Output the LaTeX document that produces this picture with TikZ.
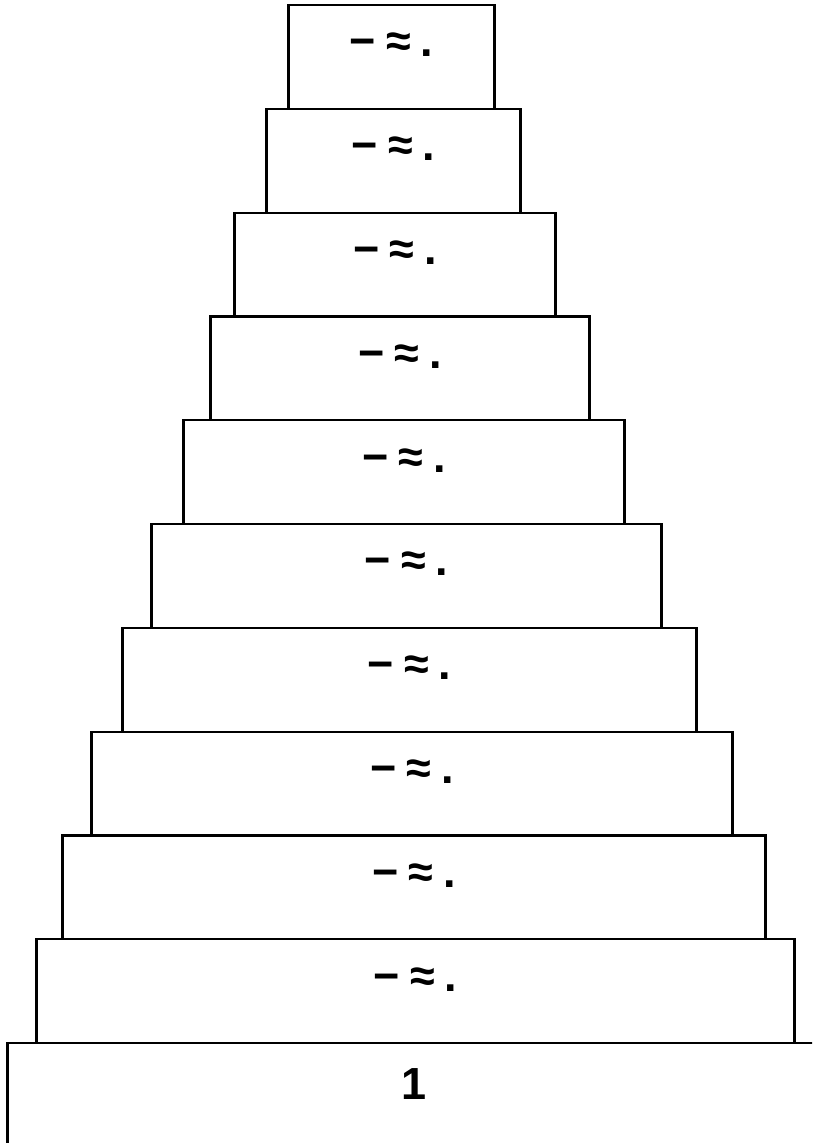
\documentclass[tikz,border=0pt]{standalone}
\usepackage{fontspec}
\setmainfont{Liberation Sans}
\newfontfamily\tierfont[WordSpace=0.8]{Liberation Sans}
\usetikzlibrary{positioning}

\begin{document}
\begin{tikzpicture}[x=1pt,y=1pt,
  tier/.style={draw,line width=2.2pt,outer sep=0pt,inner sep=0pt,minimum height=103.8pt,
    text height=0pt,text depth=0pt,font=\tierfont\fontsize{45}{45}\selectfont\bfseries}]
  \useasboundingbox (0,0) rectangle (812,-1143);
  \clip (0,0) rectangle (812,-1143);
  % base tier, runs off the page
  \node[tier,minimum width=813pt,minimum height=112pt,anchor=north west] (t11) at (7.5,-1043) {1};
  \node[tier,minimum width=758pt,above right=0pt and 29pt of t11.north west] (t10) {− ≈ .};
  \node[tier,minimum width=703pt,above right=0pt and 26pt of t10.north west] (t9) {− ≈ .};
  \node[tier,minimum width=641pt,above right=0pt and 29pt of t9.north west] (t8) {− ≈ .};
  \node[tier,minimum width=574pt,above right=0pt and 31pt of t8.north west] (t7) {− ≈ .};
  \node[tier,minimum width=510pt,above right=0pt and 29pt of t7.north west] (t6) {− ≈ .};
  \node[tier,minimum width=441pt,above right=0pt and 32pt of t6.north west] (t5) {− ≈ .};
  \node[tier,minimum width=379pt,above right=0pt and 27pt of t5.north west] (t4) {− ≈ .};
  \node[tier,minimum width=321pt,above right=0pt and 24pt of t4.north west] (t3) {− ≈ .};
  \node[tier,minimum width=254pt,above right=0pt and 32pt of t3.north west] (t2) {− ≈ .};
  \node[tier,minimum width=206pt,above right=0pt and 22pt of t2.north west] (t1) {− ≈ .};
\end{tikzpicture}
\end{document}
